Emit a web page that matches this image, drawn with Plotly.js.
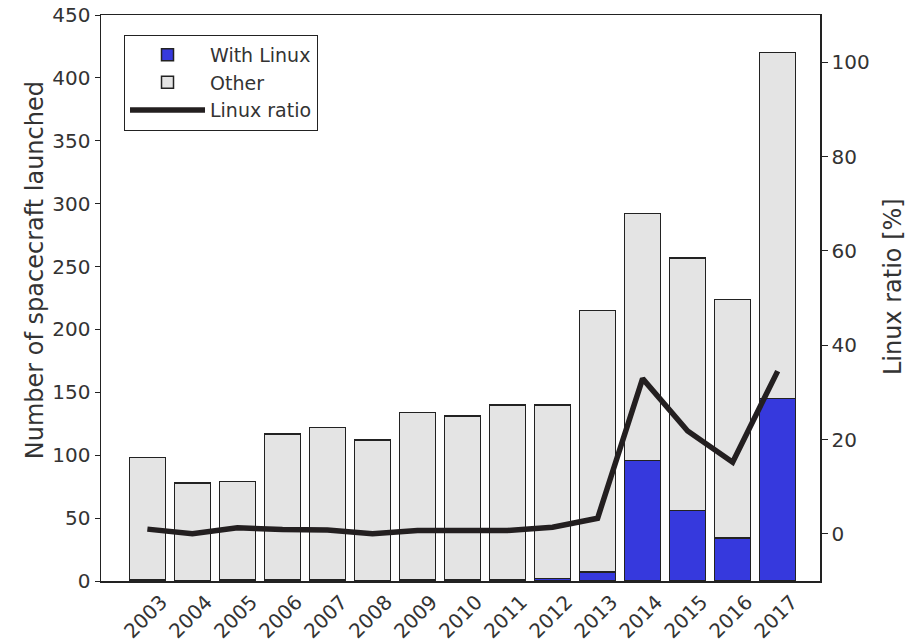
<!DOCTYPE html>
<html>
<head>
<meta charset="utf-8">
<script src="https://cdn.plot.ly/plotly-3.0.1.min.js"></script>
<style>html,body{margin:0;padding:0;background:#fff;}#chart{width:923px;height:642px;}</style>
</head>
<body>
<div id="chart"></div>
<script>
const years = ["2003","2004","2005","2006","2007","2008","2009","2010","2011","2012","2013","2014","2015","2016","2017"];
const withLinux = [1,0,1,1,1,0,1,1,1,2,7,96,56,34,145];
const other = [97,78,78,116,121,112,133,130,139,138,208,196,201,190,275];
const linuxRatio = [1.0,0.0,1.3,0.9,0.8,0.0,0.7,0.8,0.7,1.4,3.3,32.9,21.8,15.2,34.5];

const txt = '#333333';
const FAM = 'DejaVu Sans, sans-serif';
const tickF = {family: FAM, size: 20, color: txt};
const titleF = {family: FAM, size: 24, color: txt};

const traces = [
  {type:'bar', name:'With Linux', x: years, y: withLinux, width: 0.8,
   marker:{color:'#3639dd', line:{color:'#222222', width:1.5}}},
  {type:'bar', name:'Other', x: years, y: other, width: 0.8,
   marker:{color:'#e4e4e4', line:{color:'#222222', width:1.5}}},
  {type:'scatter', mode:'lines', name:'Linux ratio', x: years, y: linuxRatio, yaxis:'y2',
   line:{color:'#231f20', width:5.5}}
];

const layout = {
  width: 923, height: 642,
  margin: {l:101, r:103, t:15, b:61},
  paper_bgcolor:'#fff', plot_bgcolor:'#fff',
  barmode:'stack',
  showlegend: true,
  font: {family: FAM, size: 20, color: txt},
  legend: {x:0.032, y:0.965, xanchor:'left', yanchor:'top', traceorder:'normal',
    bgcolor:'#fff', bordercolor:'#222', borderwidth:1, font:{family:FAM, size:19, color:txt},
    itemwidth: 75, tracegroupgap: 0},
  xaxis: {type:'category', range:[-1.03, 14.94], tickangle:-45, showgrid:false, zeroline:false,
    showline:true, linecolor:'#222', linewidth:1.5, mirror:true, ticks:'', tickfont:tickF,
    ticklabelshift: 14, ticklabelstandoff: 0},
  yaxis: {range:[0,450], tickvals:[0,50,100,150,200,250,300,350,400,450], showgrid:false, zeroline:false,
    showline:true, linecolor:'#222', linewidth:1.5, mirror:true, ticks:'outside', ticklen:5, tickcolor:'#222',
    tickfont:tickF},
  yaxis2: {overlaying:'y', side:'right', range:[-10,110], tickvals:[0,20,40,60,80,100], showgrid:false, zeroline:false,
    showline:true, linecolor:'#222', linewidth:1.5, ticks:'outside', ticklen:6, tickcolor:'#222',
    tickfont:tickF},
  annotations: [
    {text:'Number of spacecraft launched', xref:'paper', yref:'paper', x:-0.0918, y:0.549,
     xanchor:'center', yanchor:'middle', textangle:-90, showarrow:false, font:titleF},
    {text:'Linux ratio [%]', xref:'paper', yref:'paper', x:1.1015, y:0.521,
     xanchor:'center', yanchor:'middle', textangle:-90, showarrow:false, font:titleF}
  ]
};

Plotly.newPlot('chart', traces, layout, {displayModeBar:false, staticPlot:true});
</script>
</body>
</html>
